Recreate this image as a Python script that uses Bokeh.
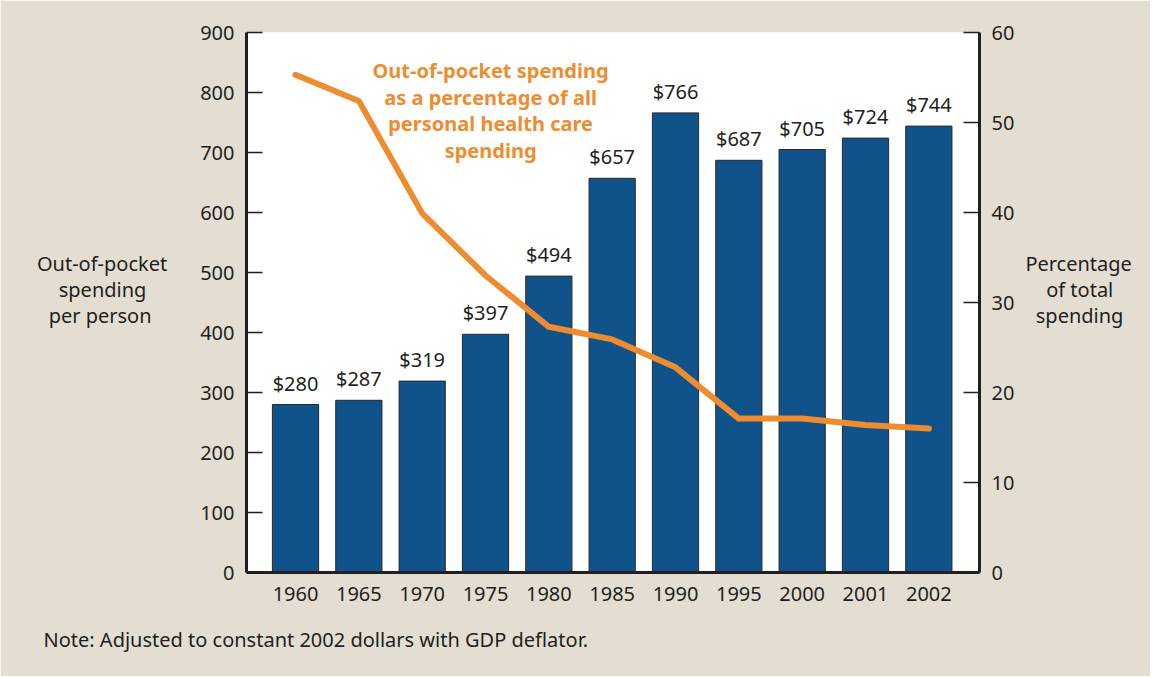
from bokeh.plotting import figure
from bokeh.models import (ColumnDataSource, LinearAxis, Range1d, FixedTicker,
                          Label, LabelSet, Title)
from bokeh.core.properties import value
from bokeh.embed import file_html
from bokeh.resources import INLINE

years = ["1960", "1965", "1970", "1975", "1980", "1985", "1990", "1995", "2000", "2001", "2002"]
spending = [280, 287, 319, 397, 494, 657, 766, 687, 705, 724, 744]
pct_share = [55.3, 52.4, 39.9, 33.0, 27.3, 25.9, 22.8, 17.1, 17.1, 16.4, 16.0]
left_ticks = [0, 100, 200, 300, 400, 500, 600, 700, 800, 900]
right_ticks = [0, 10, 20, 30, 40, 50, 60]
left_title = ["Out-of-pocket", "spending", "per person"]
right_title = ["Percentage", "of total", "spending"]
annotation = ["Out-of-pocket spending", "as a percentage of all", "personal health care", "spending"]
note = "Note: Adjusted to constant 2002 dollars with GDP deflator."

FONT = "Noto Sans"
INK = "#231f20"
BLUE = "#0f538a"
ORANGE = "#ef8c2f"
BEIGE = "#e4ded2"
FS = "20px"
NB = "\u00a0"

idx = list(range(len(years)))
src = ColumnDataSource(dict(x=idx, y=spending, pct=pct_share,
                            lab=["$%d" % v for v in spending]))

p = figure(width=1150, height=676, output_backend="svg", toolbar_location=None,
           x_range=Range1d(-0.774, 10.8), y_range=Range1d(0, 900),
           min_border_left=246, min_border_right=171, min_border_top=32,
           min_border_bottom=104, y_axis_location=None, x_axis_location=None)
p.background_fill_color = "white"
p.border_fill_color = BEIGE
p.outline_line_color = None
p.grid.visible = False
p.extra_y_ranges = {"pct": Range1d(0, 60)}

p.vbar(x="x", top="y", width=0.73, source=src, fill_color=BLUE,
       line_color="#2a2a2a", line_width=1)
p.line(x="x", y="pct", source=src, y_range_name="pct", line_color=ORANGE,
       line_width=6, line_join="round", line_cap="round")

labels = LabelSet(x="x", y="y", text="lab", source=src, y_offset=14,
                  text_align="center", text_baseline="alphabetic",
                  text_font=value(FONT), text_font_size=value(FS), text_color=value(INK))
p.add_layout(labels)

def style_axis(ax):
    ax.axis_line_color = INK
    ax.axis_line_width = 3
    ax.major_tick_in = 16
    ax.major_tick_out = 0
    ax.major_tick_line_color = INK
    ax.major_tick_line_width = 1.5
    ax.minor_tick_line_color = None
    ax.major_label_text_font = FONT
    ax.major_label_text_font_size = FS
    ax.major_label_text_color = INK
    ax.major_label_standoff = 12
    ax.axis_label_text_font = FONT
    ax.axis_label_text_font_size = FS
    ax.axis_label_text_font_style = "normal"
    ax.axis_label_text_color = INK
    ax.axis_label_text_line_height = 0.97
    ax.axis_label_orientation = "horizontal"

# multi-line axis titles; non-breaking spaces keep each line centred
left_lines = [left_title[0], left_title[1] + NB * 4, left_title[2] + NB * 3, NB]
right_lines = [right_title[0], NB * 4 + right_title[1], NB * 2 + right_title[2], NB]

ly = LinearAxis(ticker=FixedTicker(ticks=left_ticks), axis_label="\n".join(left_lines))
style_axis(ly)
ly.axis_label_standoff = 30
p.add_layout(ly, "left")

ry = LinearAxis(y_range_name="pct", ticker=FixedTicker(ticks=right_ticks),
                axis_label="\n".join(right_lines))
style_axis(ry)
ry.axis_label_standoff = 8
p.add_layout(ry, "right")

bx = LinearAxis(ticker=FixedTicker(ticks=idx),
                major_label_overrides={i: y for i, y in enumerate(years)})
style_axis(bx)
bx.major_tick_in = 0
bx.major_label_standoff = 14
p.add_layout(bx, "below")

p.add_layout(Title(text=note, align="left", offset=-203, standoff=40,
                   text_font=FONT, text_font_size=FS, text_font_style="normal",
                   text_color=INK), "below")

for i, t in enumerate(annotation):
    p.add_layout(Label(x=3.08, y=836.7 - i * 44.5, text=t, text_align="center",
                       text_baseline="middle", text_font=FONT,
                       text_font_size=FS, text_font_style="bold",
                       text_color=ORANGE))

open("out.html", "w").write(file_html(p, INLINE))
